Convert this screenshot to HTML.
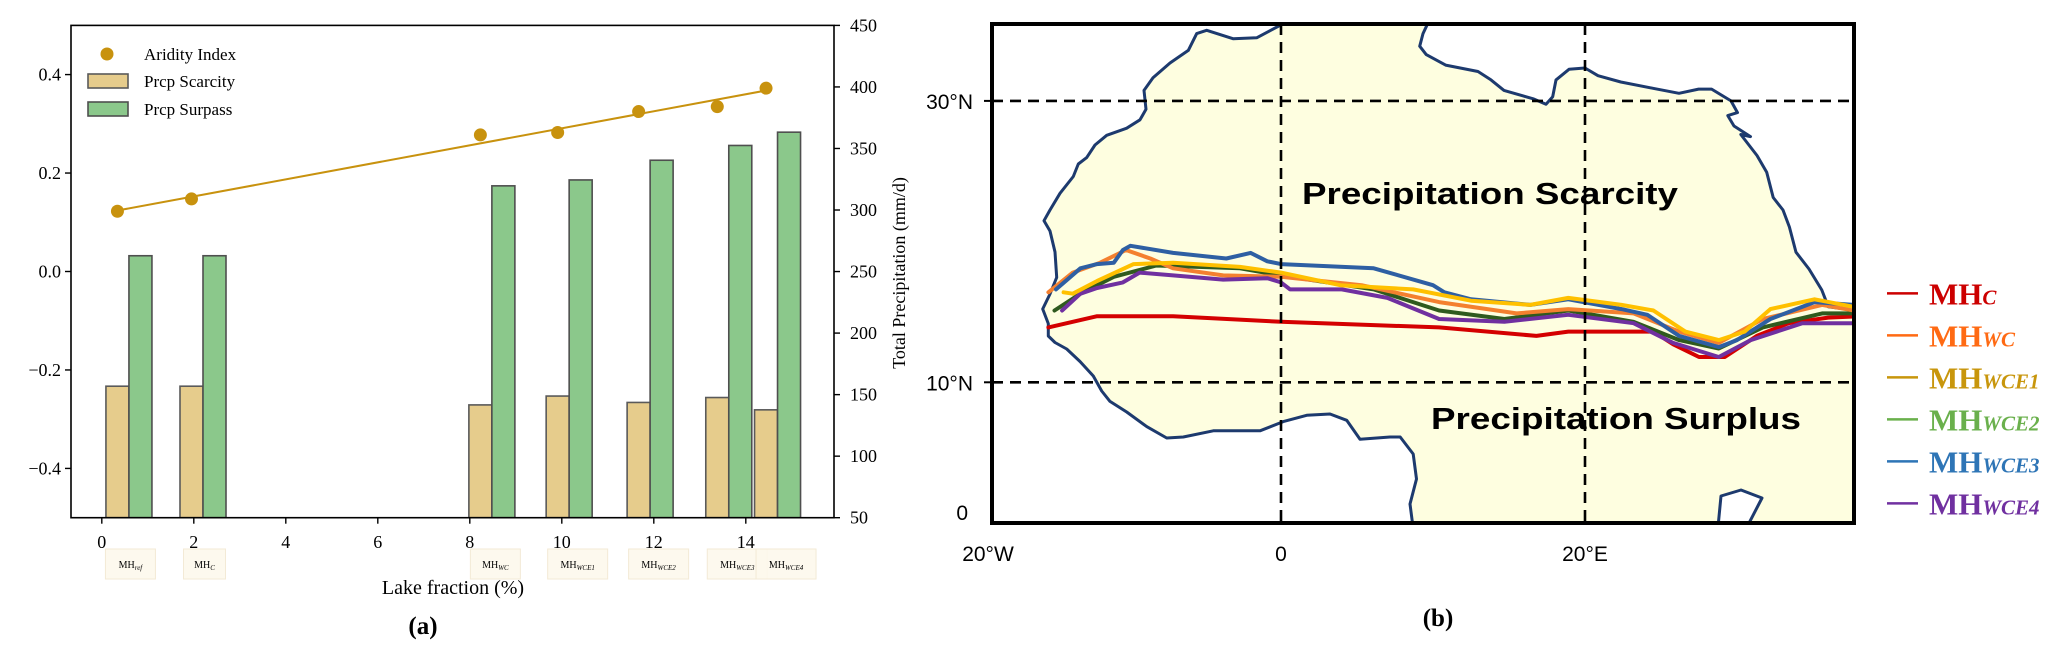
<!DOCTYPE html>
<html><head><meta charset="utf-8"><style>
html,body{margin:0;padding:0;background:#fff;}
svg{display:block;}
.serif{font-family:"Liberation Serif",serif;}
.sans{font-family:"Liberation Sans",sans-serif;}
</style></head>
<body>
<svg id="fig" width="2067" height="659" viewBox="0 0 2067 659" xmlns="http://www.w3.org/2000/svg">
  <g id="panelA"></g>
  <g id="panelB"></g>
</svg>
<script>
// ---------- Panel (a) data ----------
const caseLabels = ["ref","C","WC","WCE1","WCE2","WCE3","WCE4"];
const lakeFraction = [0.34,1.95,8.23,9.91,11.67,13.38,14.44];
const prcpScarcity = [-0.233,-0.233,-0.271,-0.253,-0.266,-0.256,-0.281];
const prcpSurpass = [0.032,0.032,0.174,0.186,0.226,0.256,0.283];
const aridityIndex = [299,309,361,363,380,384,399];
const xTicks = [0,2,4,6,8,10,12,14];
const yTicksLeft = [0.4,0.2,0.0,-0.2,-0.4];
const yTicksRight = [50,100,150,200,250,300,350,400,450];

// ---------- Panel (b) data (lon, lat) ----------
const lineMHC = [[-15.3,13.9],[-12.1,14.7],[-7.1,14.7],[0,14.3],[10.4,13.9],[16.8,13.3],[18.9,13.6],[24.5,13.6],[25.8,12.7],[27.5,11.8],[29.2,11.8],[31.3,13.3],[33.4,14.2],[36,14.6],[38.1,14.7]];
const lineMHWC = [[-15.3,16.4],[-13.7,17.8],[-11.9,18.5],[-10.2,19.4],[-8.6,18.8],[-7.1,18.1],[-3.8,17.6],[0,17.5],[5.3,16.9],[10.4,15.7],[15.5,14.9],[18.9,15.2],[23.2,14.9],[26.2,13.6],[28.8,12.8],[31.7,14.5],[35.6,15.5],[37.7,15.1]];
const lineMHWCE1 = [[-14.3,16.4],[-13.7,16.3],[-12.1,17.2],[-9.7,18.4],[-7.1,18.5],[-2.7,18.2],[0,17.8],[3.9,16.9],[8.7,16.6],[12.5,15.8],[16.4,15.5],[18.9,16],[22.4,15.5],[24.5,15.1],[26.6,13.6],[28.8,13],[30.5,13.6],[32.2,15.2],[35.1,15.9],[37.5,15.4]];
const lineMHWCE2 = [[-14.9,15.1],[-13.2,16.3],[-11,17.5],[-8.2,18.3],[-2.7,18.1],[0,17.6],[6.1,16.6],[10.4,15.1],[14.7,14.5],[18.9,15.1],[23.2,14.3],[26.2,13],[28.8,12.4],[31.7,13.9],[35.6,14.9],[37.7,14.9]];
const lineMHWCE3 = [[-14.8,16.6],[-13.2,18.1],[-12.1,18.4],[-11,18.5],[-10.4,19.4],[-9.9,19.7],[-7.1,19.2],[-3.6,18.8],[-2,19.2],[-0.9,18.6],[0,18.4],[6.1,18.1],[10,16.9],[10.75,16.4],[12.5,15.9],[16.4,15.5],[18.9,15.9],[22.4,15.2],[24.1,14.8],[26.2,13.3],[28.8,12.5],[30,13],[32.2,14.5],[35.1,15.7],[37.7,15.5]];
const lineMHWCE4 = [[-14.4,15.1],[-13.2,16.3],[-12.1,16.7],[-10.4,17.1],[-9.3,17.8],[-7.1,17.6],[-3.8,17.3],[-0.9,17.4],[0,17.1],[0.6,16.6],[4,16.6],[7,16],[10.4,14.5],[14.7,14.3],[18.9,14.8],[23.2,14.2],[25.8,12.8],[28.8,11.8],[30.9,13],[34.3,14.2],[37.7,14.2]];
const lonTicks = [-20,0,20];
const latTicks = [0,10,30];

const NS = "http://www.w3.org/2000/svg";
function mk(tag, attrs, parent, text){
  const e = document.createElementNS(NS, tag);
  for (const k in attrs) e.setAttribute(k, attrs[k]);
  if (text !== undefined) e.textContent = text;
  parent.appendChild(e);
  return e;
}

// ================= Panel (a) =================
const A = document.getElementById('panelA');
const axL = 71, axR = 834, axT = 25.4, axB = 517.7;
function X(v){ return 101.8 + 46*v; }
function Y(v){ return 271.5 - v*492.3; }
function Y2(p){ return axB - (p-50)*(axB-axT)/400; }

// bars
for (let i=0;i<lakeFraction.length;i++){
  const xf = lakeFraction[i];
  const b1 = mk('rect',{x:X(xf-0.25),y:Y(prcpScarcity[i]),width:X(xf+0.25)-X(xf-0.25),height:axB-Y(prcpScarcity[i]),fill:'#e6cc8c',stroke:'#5a5a5a','stroke-width':1.6},A);
  
  
  const b2 = mk('rect',{x:X(xf+0.25),y:Y(prcpSurpass[i]),width:X(xf+0.75)-X(xf+0.25),height:axB-Y(prcpSurpass[i]),fill:'#8bc88b',stroke:'#4f4f4f','stroke-width':1.6},A);
  
  
}
// fit line
(function(){
  const n = lakeFraction.length;
  let sx=0,sy=0,sxx=0,sxy=0;
  for (let i=0;i<n;i++){ sx+=lakeFraction[i]; sy+=aridityIndex[i]; sxx+=lakeFraction[i]*lakeFraction[i]; sxy+=lakeFraction[i]*aridityIndex[i]; }
  const m=(n*sxy-sx*sy)/(n*sxx-sx*sx), c=(sy-m*sx)/n;
  const x0=Math.min(...lakeFraction), x1=Math.max(...lakeFraction);
  const ln = mk('line',{x1:X(x0),y1:Y2(m*x0+c),x2:X(x1),y2:Y2(m*x1+c),stroke:'#c8920e','stroke-width':2},A);
  
  
})();
for (let i=0;i<lakeFraction.length;i++){
  const d = mk('circle',{cx:X(lakeFraction[i]),cy:Y2(aridityIndex[i]),r:6.5,fill:'#c8920e'},A);
  
  
}
// frame
const fr = mk('rect',{x:axL,y:axT,width:axR-axL,height:axB-axT,fill:'none',stroke:'#000','stroke-width':1.6},A);


// x ticks
for (const t of xTicks){
  mk('line',{x1:X(t),y1:axB,x2:X(t),y2:axB+6,stroke:'#000','stroke-width':1.4},A);
  const tl = mk('text',{x:X(t),y:548,'font-size':18,'text-anchor':'middle',class:'serif'},A,String(t));
  
  
}
// left y ticks
for (const t of yTicksLeft){
  mk('line',{x1:axL,y1:Y(t),x2:axL-6,y2:Y(t),stroke:'#000','stroke-width':1.4},A);
  const tl = mk('text',{x:axL-10,y:Y(t)+6,'font-size':18,'text-anchor':'end',class:'serif'},A,(t<0?'\u2212':'')+Math.abs(t).toFixed(1));
  
  
}
// right y ticks
for (const t of yTicksRight){
  mk('line',{x1:axR,y1:Y2(t),x2:axR+6,y2:Y2(t),stroke:'#000','stroke-width':1.4},A);
  const tl = mk('text',{x:axR+16,y:Y2(t)+6,'font-size':18,class:'serif'},A,String(t));
  
  
}
// case label boxes
const boxW = [50,42,50,60,60,60,60];
for (let i=0;i<lakeFraction.length;i++){
  const cx = X(lakeFraction[i]) + (i<2?13:(i==2?15:20));
  const g = mk('g',{},A);
  
  
  mk('rect',{x:cx-boxW[i]/2,y:549,width:boxW[i],height:30,fill:'#fdf8ec',stroke:'#f3ead6','stroke-width':1,'fill-opacity':0.9},g);
  const t = mk('text',{x:cx,y:568,'font-size':10,'text-anchor':'middle',class:'serif'},g);
  mk('tspan',{},t,'MH');
  mk('tspan',{'font-size':7,'font-style':'italic',dy:2},t,caseLabels[i]==='ref'?'ref':caseLabels[i]);
}
// titles
const xt = mk('text',{x:453,y:594,'font-size':20,'text-anchor':'middle',class:'serif'},A,'Lake fraction (%)');


const yt = mk('text',{x:0,y:0,'font-size':18,'text-anchor':'middle',class:'serif',transform:'translate(905,273) rotate(-90)'},A,'Total Precipitation (mm/d)');


const pa = mk('text',{x:423,y:634,'font-size':25,'font-weight':'bold','text-anchor':'middle',class:'serif'},A,'(a)');


// legend
const lg = mk('g',{},A);


mk('circle',{cx:107,cy:54,r:6.5,fill:'#c8920e'},lg);
mk('text',{x:144,y:60,'font-size':17,class:'serif'},lg,'Aridity Index');
mk('rect',{x:88,y:74,width:40,height:14,fill:'#e6cc8c',stroke:'#5a5a5a','stroke-width':1.6},lg);
mk('text',{x:144,y:87,'font-size':17,class:'serif'},lg,'Prcp Scarcity');
mk('rect',{x:88,y:102,width:40,height:14,fill:'#8bc88b',stroke:'#4f4f4f','stroke-width':1.6},lg);
mk('text',{x:144,y:115,'font-size':17,class:'serif'},lg,'Prcp Surpass');

// ================= Panel (b) =================
const B = document.getElementById('panelB');
const mL=992, mR=1854, mT=24, mB=523;
function LX(lon){ return 1281 + lon*15.2; }
function LY(lat){ return 523 - lat*14.07; }
mk('clipPath',{id:'mapclip'},B);
document.getElementById('mapclip').appendChild(Object.assign(document.createElementNS(NS,'rect'),{}));
const cr = document.getElementById('mapclip').firstChild;
cr.setAttribute('x',mL); cr.setAttribute('y',mT); cr.setAttribute('width',mR-mL); cr.setAttribute('height',mB-mT);
const mg = mk('g',{'clip-path':'url(#mapclip)'},B);

const westCoast = "M1280.7,25 L1256.7,37.8 L1233,38.7 L1206.7,30.3 L1196.7,33.6 L1188.3,50.4 L1170,63 L1153,77.8 L1144,90.4 L1146,109.3 L1140,119.8 L1126.7,128.2 L1106.7,135.3 L1095,145 L1086.7,157.6 L1078.3,164 L1073.3,176.5 L1060,193.3 L1050,210 L1044,220.7 L1050,231 L1055,252 L1056.7,277.4 L1050,294 L1042.7,309 L1048.3,323.6 L1048.3,336 L1055,342.5 L1066.7,349 L1080,361.5 L1093.3,376 L1101.7,391 L1110,401.4 L1126.7,412 L1146.7,426.6 L1166.7,438 L1183.3,437 L1213.3,430.8 L1240,430.8 L1260,430.8 L1283.3,421.6 L1306.7,415.3 L1330,414 L1346.7,420.3 L1360,439.2 L1390,437 L1400.2,437 L1413.2,454 L1416.5,479 L1410,504 L1413,527";
const eastCoast = "M1429.4,20 L1423,33.6 L1419.7,46.2 L1426.2,54.6 L1445.6,65.1 L1478,71.5 L1491,79.9 L1504,90.4 L1533.2,98.8 L1546,104.2 L1552.7,96.7 L1556,79.9 L1569,69.3 L1585,68 L1598,75.7 L1620.8,82 L1653,88.3 L1679,93.3 L1698.6,89.1 L1711.6,89.1 L1731,100.9 L1737.5,112.6 L1727.8,115.6 L1734,126 L1750.5,136.6 L1740.8,134.5 L1757,155.5 L1766.7,172.3 L1773.2,197.5 L1783,210 L1789.4,227 L1796,252.2 L1809,269 L1821.8,290 L1828.3,306.8 L1860,311";
const eastRev = "L1828.3,306.8 L1821.8,290 L1809,269 L1796,252.2 L1789.4,227 L1783,210 L1773.2,197.5 L1766.7,172.3 L1757,155.5 L1740.8,134.5 L1750.5,136.6 L1734,126 L1727.8,115.6 L1737.5,112.6 L1731,100.9 L1711.6,89.1 L1698.6,89.1 L1679,93.3 L1653,88.3 L1620.8,82 L1598,75.7 L1585,68 L1569,69.3 L1556,79.9 L1552.7,96.7 L1546,104.2 L1533.2,98.8 L1504,90.4 L1491,79.9 L1478,71.5 L1445.6,65.1 L1426.2,54.6 L1419.7,46.2 L1423,33.6 L1429.4,20 Z";
const land = mk('path',{d:westCoast+" L1860,527 L1860,311 "+eastRev,fill:'#fefee0',stroke:'none'},mg);


const bay = mk('path',{d:"M1718,527 L1721,496 L1741,490 L1762,498 L1747,527 Z",fill:'#fff',stroke:'none'},mg);


for (const d of [westCoast,eastCoast,"M1718,527 L1721,496 L1741,490 L1762,498 L1747,527"]){
  const c = mk('path',{d:d,fill:'none',stroke:'#1d3a6e','stroke-width':3,'stroke-linejoin':'round'},mg);
  
  
}
// gridlines
for (const lon of [0,20]){
  const g = mk('line',{x1:LX(lon),y1:mT,x2:LX(lon),y2:mB,stroke:'#000','stroke-width':2.6,'stroke-dasharray':'11,7'},B);
  
  
}
for (const lat of [10,30]){
  const g = mk('line',{x1:mL,y1:LY(lat),x2:mR,y2:LY(lat),stroke:'#000','stroke-width':2.6,'stroke-dasharray':'11,7'},B);
  
  
  mk('line',{x1:mL-8,y1:LY(lat),x2:mL,y2:LY(lat),stroke:'#000','stroke-width':2},B);
}
// contour lines
const series = [
  {name:'mhc',data:lineMHC,color:'#d40000'},
  {name:'mhwce2',data:lineMHWCE2,color:'#2f5a1e'},
  {name:'mhwc',data:lineMHWC,color:'#f4802f'},
  {name:'mhwce4',data:lineMHWCE4,color:'#7030a0'},
  {name:'mhwce3',data:lineMHWCE3,color:'#2e5fa3'},
  {name:'mhwce1',data:lineMHWCE1,color:'#ffc000'}
];
for (const s of series){
  const pts = s.data.map(p=>LX(p[0]).toFixed(1)+','+LY(p[1]).toFixed(1)).join(' ');
  const pl = mk('polyline',{points:pts,fill:'none',stroke:s.color,'stroke-width':4,'stroke-linejoin':'round','stroke-linecap':'round'},mg);
  
  
}
// region labels
const t1 = mk('text',{x:1302,y:204,'font-size':31,'font-weight':'bold',class:'sans',textLength:376,lengthAdjust:'spacingAndGlyphs'},B,'Precipitation Scarcity');


const t2 = mk('text',{x:1431,y:429,'font-size':31,'font-weight':'bold',class:'sans',textLength:370,lengthAdjust:'spacingAndGlyphs'},B,'Precipitation Surplus');


// frame
const mf = mk('rect',{x:mL,y:mT,width:mR-mL,height:mB-mT,fill:'none',stroke:'#000','stroke-width':4},B);


// tick labels
const lonLbl = {"-20":"20°W","0":"0","20":"20°E"};
for (const lon of lonTicks){
  const tx = lon===-20 ? 988 : LX(lon);
  const t = mk('text',{x:tx,y:561,'font-size':21,'text-anchor':'middle',class:'sans'},B,lonLbl[String(lon)]);
  
  
}
const latLbl = {"0":"0","10":"10°N","30":"30°N"};
for (const lat of latTicks){
  const ty = lat===0 ? 520 : LY(lat)+8;
  const t = mk('text',{x:lat===0?968:973,y:ty,'font-size':21,'text-anchor':'end',class:'sans'},B,latLbl[String(lat)]);
  
  
}
// legend b
const legendB = [
  {sub:'C',color:'#cc0000'},{sub:'WC',color:'#ff6a13'},{sub:'WCE1',color:'#c8960c'},
  {sub:'WCE2',color:'#6ab04c'},{sub:'WCE3',color:'#2e75b6'},{sub:'WCE4',color:'#7030a0'}
];
for (let i=0;i<legendB.length;i++){
  const y = 293.4 + i*42;
  const g = mk('g',{},B);
  
  
  mk('line',{x1:1887,y1:y,x2:1918,y2:y,stroke:legendB[i].color,'stroke-width':2.5},g);
  const t = mk('text',{x:1929,y:y+11,fill:legendB[i].color,'font-weight':'bold',class:'serif','font-size':31},g);
  mk('tspan',{},t,'MH');
  mk('tspan',{'font-size':21,'font-style':'italic'},t,legendB[i].sub);
}
const pb = mk('text',{x:1438,y:626,'font-size':25,'font-weight':'bold','text-anchor':'middle',class:'serif'},B,'(b)');


</script>
</body></html>
